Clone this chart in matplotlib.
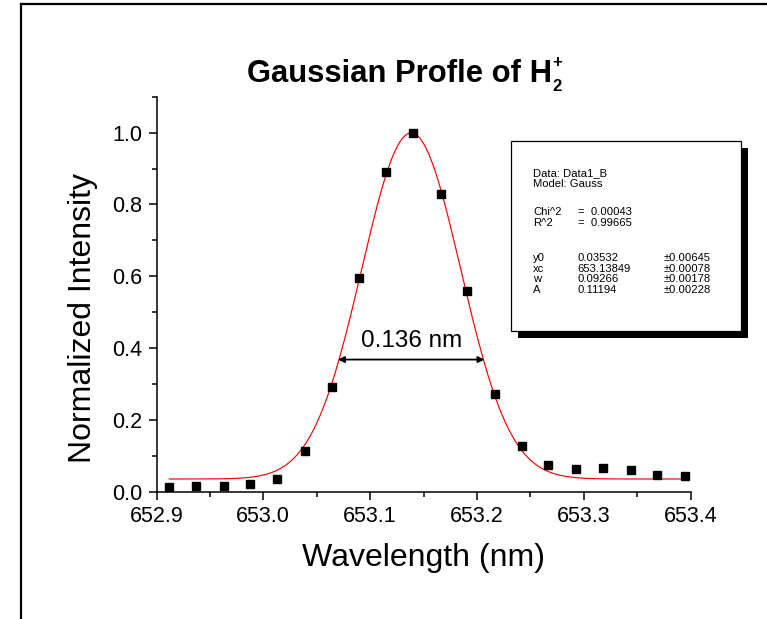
import numpy as np
import matplotlib
matplotlib.use("Agg")
import matplotlib.pyplot as plt
from matplotlib.patches import Rectangle
from matplotlib.lines import Line2D
from matplotlib.ticker import MultipleLocator, FormatStrFormatter

plt.rcParams['font.family'] = ['Liberation Sans', 'DejaVu Sans']

# ---- data ----
wavelength = [652.912, 652.937, 652.963, 652.988, 653.013, 653.039, 653.064,
              653.090, 653.115, 653.140, 653.166, 653.191, 653.217, 653.242,
              653.267, 653.293, 653.318, 653.344, 653.369, 653.395]
intensity = [0.012, 0.015, 0.015, 0.021, 0.034, 0.113, 0.292, 0.595, 0.890,
             1.000, 0.830, 0.559, 0.272, 0.126, 0.073, 0.064, 0.067, 0.061,
             0.047, 0.043]

# Gauss fit parameters (from the fit box)
y0 = 0.03532
xc = 653.13849
w = 0.09266
A = 0.11194

fwhm_x = [653.070, 653.207]
fwhm_y = 0.368
fwhm_label = "0.136 nm"

box_lines = [("Data: Data1_B", "", ""),
             ("Model: Gauss", "", ""),
             ("Chi^2", "=  0.00043", ""),
             ("R^2", "=  0.99665", ""),
             ("y0", "0.03532", "\u00b10.00645"),
             ("xc", "653.13849", "\u00b10.00078"),
             ("w", "0.09266", "\u00b10.00178"),
             ("A", "0.11194", "\u00b10.00228")]

W, H = 767, 619
fig = plt.figure(figsize=(W / 100, H / 100), dpi=100)


def fx(x):
    return x / W


def fy(y):
    return 1 - y / H


ax_l, ax_r, ax_t, ax_b = 156.5, 690.5, 96.7, 491.7
ax = fig.add_axes([fx(ax_l), fy(ax_b), (ax_r - ax_l) / W, (ax_b - ax_t) / H])

# fit curve
xf = np.linspace(wavelength[0], wavelength[-1], 200)
yf = y0 + A / (w * np.sqrt(np.pi / 2)) * np.exp(-2 * (xf - xc) ** 2 / w ** 2)
ax.plot(xf, yf, color='#ff0000', lw=0.85, zorder=2)
ax.plot(wavelength, intensity, ls='none', marker='s', ms=5.6, color='black', zorder=3)

ax.annotate('', xy=(fwhm_x[0], fwhm_y), xytext=(fwhm_x[1], fwhm_y),
            arrowprops=dict(arrowstyle='<|-|>', color='black', lw=1.3,
                            mutation_scale=9, shrinkA=0, shrinkB=0))
ax.text((fwhm_x[0] + fwhm_x[1]) / 2, fwhm_y + 0.022, fwhm_label,
        ha='center', va='bottom', fontsize=17.5)

ax.set_xlim(652.9, 653.4)
ax.set_ylim(0, 1.1)
ax.spines['top'].set_visible(False)
ax.spines['right'].set_visible(False)
for s in ('left', 'bottom'):
    ax.spines[s].set_linewidth(1.1)
ax.xaxis.set_major_locator(MultipleLocator(0.1))
ax.xaxis.set_minor_locator(MultipleLocator(0.05))
ax.yaxis.set_major_locator(MultipleLocator(0.2))
ax.yaxis.set_minor_locator(MultipleLocator(0.1))
ax.xaxis.set_major_formatter(FormatStrFormatter('%.1f'))
ax.yaxis.set_major_formatter(FormatStrFormatter('%.1f'))
ax.tick_params(which='major', direction='out', length=6, width=1.1,
               labelsize=15.5, pad=4)
ax.tick_params(which='minor', direction='out', length=3.5, width=1.1)
ax.patch.set_alpha(0)

fig.text(fx(423), fy(558), "Wavelength (nm)", ha='center', va='center', fontsize=23)
fig.text(fx(83), fy(318), "Normalized Intensity", ha='center', va='center',
         fontsize=23, rotation=90)

# title
fig.text(fx(246.7), fy(81.7), "Gaussian Profle of H", ha='left', va='baseline',
         fontsize=22.3, fontweight='bold')
fig.text(fx(552), fy(91), "2", ha='left', va='baseline', fontsize=12, fontweight='bold')
fig.text(fx(552.5), fy(67), "+", ha='left', va='baseline', fontsize=12, fontweight='bold')

# outer frame (left & top lines)
fig.add_artist(Line2D([fx(21), fx(21)], [fy(4), 0], color='black', lw=1.6,
                      transform=fig.transFigure))
fig.add_artist(Line2D([fx(21), 1], [fy(4), fy(4)], color='black', lw=1.6,
                      transform=fig.transFigure))

# fit box with shadow
bl, bt, br, bb = 511, 141, 741, 331
off = 7
fig.add_artist(Rectangle((fx(bl + off), fy(bb + off)), (br - bl) / W, (bb - bt) / H,
                         transform=fig.transFigure, facecolor='black',
                         edgecolor='black', lw=0, zorder=5))
fig.add_artist(Rectangle((fx(bl), fy(bb)), (br - bl) / W, (bb - bt) / H,
                         transform=fig.transFigure, facecolor='white',
                         edgecolor='black', lw=0.9, zorder=6))
line_y = [172.5, 183, 211, 221.5, 257, 267.6, 278.2, 288.8]
for (c1, c2, c3), yy in zip(box_lines, line_y):
    yb = yy + 4.0
    fig.text(fx(533), fy(yb), c1, fontsize=8.1, va='baseline', ha='left', zorder=7)
    if c2:
        fig.text(fx(577.5), fy(yb), c2, fontsize=8.1, va='baseline', ha='left', zorder=7)
    if c3:
        fig.text(fx(664), fy(yb), c3, fontsize=8.1, va='baseline', ha='left', zorder=7)

fig.savefig("out.png", dpi=100, facecolor='white')
